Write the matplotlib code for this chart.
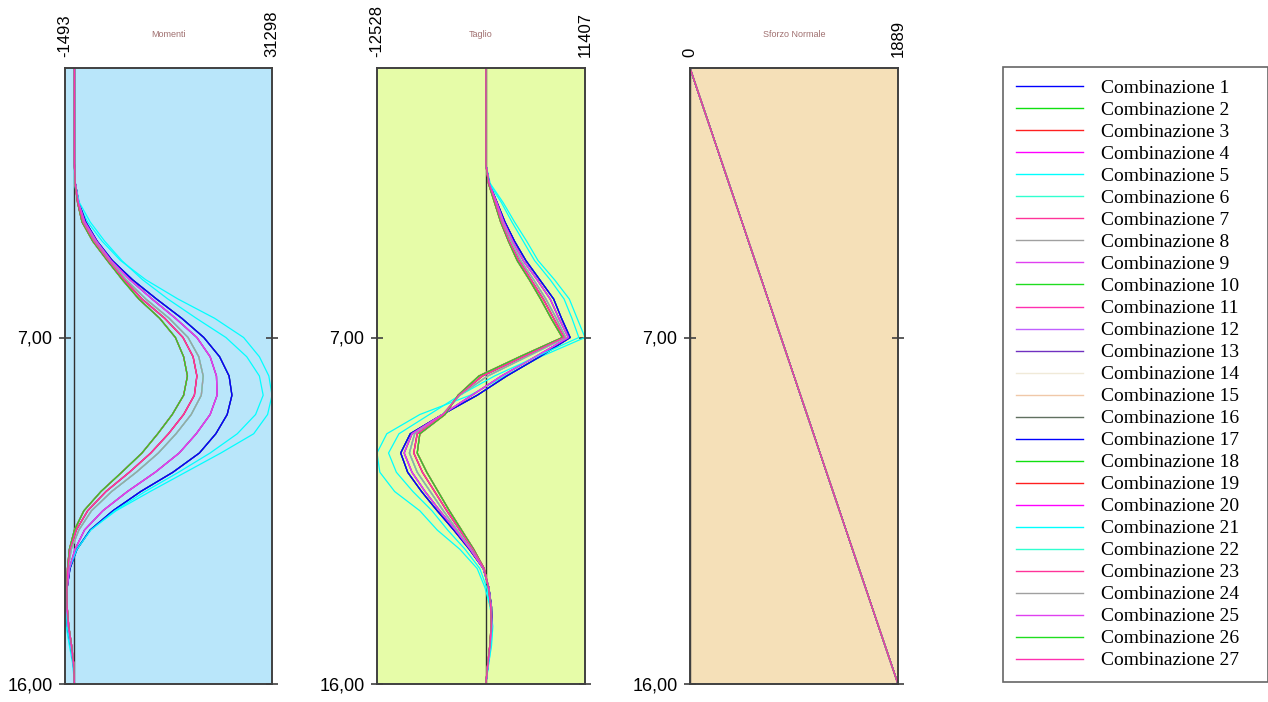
import matplotlib.pyplot as plt
from matplotlib.lines import Line2D

# profondita' (m) dei punti di calcolo
depth = [0, 2.5, 3, 3.5, 4, 4.5, 5, 5.5, 6, 6.5, 7, 7.5, 8, 8.5, 9, 9.5,
         10, 10.5, 11, 11.5, 12, 12.5, 13, 13.5, 14, 14.5, 15, 15.5, 16]

# momenti flettenti, famiglie di curve
mom_a = [0, 0, 100, 500, 1200, 2900, 5200, 7600, 10200, 13500, 16000, 17300, 17900, 17300, 15500,
         13200, 10700, 7500, 4200, 1500, 0, -800, -1100, -1200, -1150, -900, -450, -100, 0]
mom_b = [0, 0, 120, 550, 1350, 3100, 5400, 7900, 10700, 14300, 17200, 18800, 19400, 19000, 17300,
         14900, 12100, 8700, 5000, 2100, 300, -700, -1050, -1200, -1150, -900, -450, -100, 0]
mom_c = [0, 0, 130, 600, 1500, 3300, 5600, 8200, 11300, 15000, 18000, 19700, 20400, 20100, 18500,
         16100, 13300, 9800, 5900, 2700, 700, -500, -1000, -1200, -1150, -900, -450, -100, 0]
mom_d = [0, 0, 140, 650, 1650, 3500, 5800, 8800, 12300, 16000, 19400, 21500, 22500, 22600, 21500,
         19300, 16600, 12800, 8400, 4500, 1600, 100, -800, -1150, -1250, -1000, -550, -150, 0]
mom_e = [0, 0, 150, 700, 1800, 3600, 6000, 9200, 13000, 17000, 20500, 23000, 24500, 24950, 24200,
         22400, 19800, 15600, 10500, 6100, 2500, 400, -700, -1150, -1300, -1100, -600, -150, 0]
mom_f = [0, 0, 100, 800, 2500, 4800, 7500, 10800, 14800, 19300, 24000, 27300, 29300, 29900, 28700,
         25800, 21500, 16500, 11200, 6400, 2600, 400, -800, -1250, -1350, -1150, -650, -200, 0]
mom_g = [0, 0, 0, 600, 2100, 4400, 7300, 11300, 16400, 22200, 26800, 29300, 30800, 31298, 30600,
         28400, 23200, 17600, 12000, 6600, 2500, 300, -1000, -1450, -1493, -1300, -800, -250, 0]

# tagli
tag_a = [0, 0, 300, 1000, 1700, 2600, 3600, 5000, 6300, 7500, 8800, 3900, -800, -3200, -4700,
         -7600, -7900, -6800, -5500, -4200, -2800, -1400, -200, 300, 550, 600, 450, 200, 0]
tag_b = [0, 0, 350, 1100, 1800, 2700, 3800, 5200, 6600, 7800, 9000, 4300, -400, -3100, -4900,
         -7900, -8300, -7300, -5900, -4500, -3000, -1500, -200, 300, 550, 620, 460, 210, 0]
tag_c = [0, 0, 350, 1150, 1900, 2900, 4000, 5500, 6900, 8100, 9200, 4700, 200, -3000, -5000,
         -8200, -8800, -7900, -6400, -4900, -3300, -1700, -250, 320, 600, 650, 480, 220, 0]
tag_d = [0, 0, 380, 1250, 2050, 3100, 4300, 5900, 7400, 8400, 9500, 5700, 1800, -1600, -5000,
         -8500, -9400, -8500, -7000, -5300, -3500, -1800, -300, 340, 620, 680, 500, 240, 0]
tag_e = [0, 0, 400, 1300, 2200, 3300, 4600, 6200, 7800, 8700, 9700, 6200, 2400, -1000, -5000,
         -8700, -9800, -9000, -7400, -5600, -3700, -1900, -300, 350, 650, 700, 500, 250, 0]
tag_f = [0, 0, 400, 1800, 3000, 4300, 5600, 7400, 9000, 9900, 10700, 5800, 1000, -3000, -6500,
         -10000, -11200, -10300, -8400, -6200, -4400, -2400, -700, 100, 500, 750, 600, 300, 0]
tag_g = [0, 0, 500, 2000, 3300, 4700, 6000, 7900, 9600, 10500, 11407, 6300, 2200, -1800, -7600,
         -11400, -12528, -12200, -10500, -7600, -5600, -3000, -1000, -100, 500, 800, 650, 300, 0]

momenti = [mom_a, mom_b, mom_c, mom_d, mom_e, mom_f, mom_g]
tagli = [tag_a, tag_b, tag_c, tag_d, tag_e, tag_f, tag_g]

# famiglia di appartenenza di ciascuna combinazione (1..27)
famiglia = [4, 0, 0, 2, 6, 2, 1, 1, 3, 4, 0, 3, 4, 1, 2, 1,
            4, 3, 1, 3, 5, 2, 0, 2, 3, 0, 1]

# sforzo normale, uguale per tutte le combinazioni
sforzo_depth = [0, 16]
sforzo = [0, 1889]

colori_base = ['#0000ff', '#10e010', '#ff2020', '#ff00ff', '#00ffff', '#30ffd0',
               '#ff3399', '#a0a0a0', '#e040f0', '#20dd20', '#ff30b0', '#c060ff',
               '#7030c0', '#f0ead8', '#f0c8a8', '#607060']
n_comb = 27
colori = [colori_base[i % 16] for i in range(n_comb)]
etichette = ['Combinazione %d' % (i + 1) for i in range(n_comb)]

plt.rcParams['font.family'] = 'Liberation Sans'

fig = plt.figure(figsize=(12.68, 7.02), dpi=100)

W, H = 1268.0, 702.0
bottom = 1 - 684 / H
height = 616 / H
ax1 = fig.add_axes([65 / W, bottom, 207 / W, height])
ax2 = fig.add_axes([377 / W, bottom, 208 / W, height])
ax3 = fig.add_axes([690 / W, bottom, 208 / W, height])


def imposta(ax, lo, hi, sfondo, titolo):
    ax.set_facecolor(sfondo)
    ax.set_xlim(lo, hi)
    ax.set_ylim(16, 0)
    ax.axvline(0, color='#303030', lw=1.0, zorder=1)
    ax.xaxis.tick_top()
    ax.set_xticks([lo, hi])
    ax.set_xticklabels([str(lo), str(hi)], rotation=90, fontsize=12)
    ax.tick_params(axis='x', length=0, pad=8)
    ax.set_yticks([7, 16])
    ax.set_yticklabels(['7,00', '16,00'], fontsize=13)
    ax.tick_params(axis='y', direction='inout', length=8, width=1.2,
                   color='#404040', left=True, right=True, pad=5)
    for sp in ax.spines.values():
        sp.set_color('#404040')
        sp.set_linewidth(1.4)
    ax.text(0.5, 1.055, titolo, transform=ax.transAxes, ha='center',
            va='center', fontsize=6.5, color='#a07070')


imposta(ax1, -1493, 31298, '#b9e6fa', 'Momenti')
imposta(ax2, -12528, 11407, '#e6fca8', 'Taglio')
imposta(ax3, 0, 1889, '#f5e0b8', 'Sforzo Normale')

for i in range(n_comb):
    f = famiglia[i]
    ax1.plot(momenti[f], depth, color=colori[i], lw=0.9, zorder=2)
    ax2.plot(tagli[f], depth, color=colori[i], lw=0.9, zorder=2)
    ax3.plot(sforzo, sforzo_depth, color=colori[i], lw=0.9, zorder=2)

handles = [Line2D([], [], color=c, lw=1.0) for c in colori]
leg = fig.legend(handles, etichette, loc='upper left',
                 bbox_to_anchor=(1003 / W, 0, 265 / W, 1 - 67 / H),
                 mode='expand', frameon=True, fancybox=False,
                 prop={'family': 'Liberation Serif', 'size': 14},
                 handlelength=3.45, handletextpad=0.95, labelspacing=0.226,
                 borderpad=0.65, borderaxespad=0)
leg.get_frame().set_edgecolor('#404040')
leg.get_frame().set_linewidth(1.2)

fig.savefig('out.png', dpi=100)
